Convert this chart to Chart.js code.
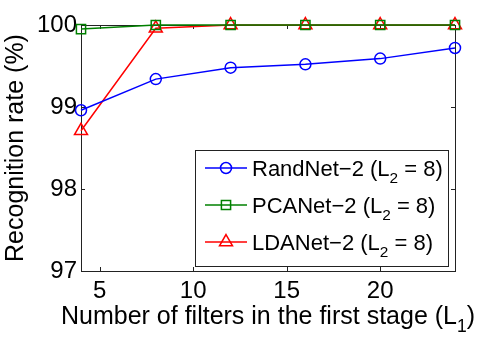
<!DOCTYPE html>
<html>
<head>
<meta charset="utf-8">
<script src="https://cdn.jsdelivr.net/npm/chart.js@4"></script>
<style>
  body { margin: 0; background: #fff; }
</style>
</head>
<body>
<canvas id="chart" width="502" height="341"></canvas>
<script>
var filters = [4, 8, 12, 16, 20, 24];
var randNet = [98.96, 99.34, 99.48, 99.52, 99.59, 99.72];
var pcaNet = [99.95, 100, 100, 100, 100, 100];
var ldaNet = [98.71, 99.96, 100, 100, 100, 100];
var xTicks = [5, 10, 15, 20];
var yTicks = [97, 98, 99, 100];
var seriesNames = ["RandNet\u22122", "PCANet\u22122", "LDANet\u22122"];

var FONT = "'Liberation Sans', Arial, Helvetica, sans-serif";

function pts(ys) {
  return filters.map(function (x, i) { return { x: x, y: ys[i] }; });
}

function drawSubText(ctx, parts, x, y, size) {
  // parts: [[text, isSub], ...], drawn left to right from x on baseline y
  parts.forEach(function (p) {
    var s = p[1] ? size * 0.7 : size;
    ctx.font = s + "px " + FONT;
    ctx.fillText(p[0], x, p[1] ? y + size * 0.32 : y);
    x += ctx.measureText(p[0]).width;
  });
  return x;
}

function measureSub(ctx, parts, size) {
  var w = 0;
  parts.forEach(function (p) {
    ctx.font = (p[1] ? size * 0.7 : size) + "px " + FONT;
    w += ctx.measureText(p[0]).width;
  });
  return w;
}

var matlabLook = {
  id: "matlabLook",
  beforeDatasetsDraw: function (chart) {
    var ctx = chart.ctx, a = chart.chartArea;
    var xs = chart.scales.x, ys = chart.scales.y;
    ctx.save();
    ctx.strokeStyle = "#222";
    ctx.lineWidth = 1;
    ctx.strokeRect(Math.round(a.left) + 0.5, Math.round(a.top) + 0.5,
      Math.round(a.right - a.left), Math.round(a.bottom - a.top));
    var t = 4;
    ctx.beginPath();
    xTicks.forEach(function (v) {
      var px = Math.round(xs.getPixelForValue(v)) + 0.5;
      ctx.moveTo(px, a.bottom); ctx.lineTo(px, a.bottom - t);
      ctx.moveTo(px, a.top); ctx.lineTo(px, a.top + t);
    });
    yTicks.forEach(function (v) {
      var py = Math.round(ys.getPixelForValue(v)) + 0.5;
      ctx.moveTo(a.left, py); ctx.lineTo(a.left + t, py);
      ctx.moveTo(a.right, py); ctx.lineTo(a.right - t, py);
    });
    ctx.stroke();
    ctx.restore();
  },
  afterDatasetsDraw: function (chart) {
    var ctx = chart.ctx, a = chart.chartArea;
    ctx.save();
    // legend
    var bx = 195.5, by = 150.5, bw = 253, bh = 116;
    ctx.fillStyle = "#fff";
    ctx.fillRect(bx, by, bw, bh);
    ctx.strokeStyle = "#222";
    ctx.lineWidth = 1;
    ctx.strokeRect(bx, by, bw, bh);
    var rowY = [168, 205, 242];
    chart.data.datasets.forEach(function (ds, i) {
      var y = rowY[i];
      ctx.strokeStyle = ds.borderColor;
      ctx.lineWidth = 1.5;
      ctx.beginPath();
      ctx.moveTo(205, y); ctx.lineTo(247, y);
      ctx.stroke();
      ctx.fillStyle = "rgba(0,0,0,0)";
      Chart.helpers.drawPoint(ctx, {
        pointStyle: ds.pointStyle, radius: ds.pointRadius, borderWidth: 1.5
      }, 226, y);
      ctx.fillStyle = "#000";
      ctx.textBaseline = "alphabetic";
      ctx.textAlign = "left";
      drawSubText(ctx, [[seriesNames[i] + " (L", false], ["2", true], [" = 8)", false]], 252, y + 8, 22);
    });
    // x title
    var xt = [["Number of filters in the first stage (L", false], ["1", true], [")", false]];
    var w = measureSub(ctx, xt, 25);
    ctx.fillStyle = "#000";
    drawSubText(ctx, xt, (a.left + a.right) / 2 - w / 2, 324, 25);
    // y title
    ctx.translate(23, (a.top + a.bottom) / 2);
    ctx.rotate(-Math.PI / 2);
    ctx.font = "25px " + FONT;
    ctx.textAlign = "center";
    ctx.fillText("Recognition rate (%)", 0, 0);
    ctx.restore();
  }
};

function makeSet(data, color, style, r) {
  return {
    data: pts(data),
    borderColor: color,
    pointBorderColor: color,
    pointBackgroundColor: "rgba(0,0,0,0)",
    borderWidth: 1.5,
    pointBorderWidth: 1.5,
    pointStyle: style,
    pointRadius: r,
    tension: 0,
    clip: false
  };
}

new Chart(document.getElementById("chart"), {
  type: "line",
  data: {
    datasets: [
      makeSet(randNet, "#0000ff", "circle", 5.5),
      makeSet(pcaNet, "#008000", "rect", 6.5),
      makeSet(ldaNet, "#ff0000", "triangle", 7.5)
    ]
  },
  options: {
    responsive: false,
    devicePixelRatio: 1,
    animation: false,
    layout: { padding: { top: 25, right: 47, left: 0, bottom: 0 } },
    plugins: { legend: { display: false }, tooltip: { enabled: false } },
    scales: {
      x: {
        type: "linear",
        min: 4, max: 24,
        afterBuildTicks: function (s) { s.ticks = xTicks.map(function (v) { return { value: v }; }); },
        afterFit: function (s) { s.height = 70; },
        grid: { display: false, drawTicks: false },
        border: { display: false },
        ticks: { color: "#000", font: { size: 24, family: FONT }, padding: 6, maxRotation: 0 }
      },
      y: {
        min: 97, max: 100,
        afterBuildTicks: function (s) { s.ticks = yTicks.map(function (v) { return { value: v }; }); },
        afterFit: function (s) { s.width = 81; },
        grid: { display: false, drawTicks: false },
        border: { display: false },
        ticks: { color: "#000", font: { size: 24, family: FONT }, padding: 4 }
      }
    }
  },
  plugins: [matlabLook]
});
</script>
</body>
</html>
